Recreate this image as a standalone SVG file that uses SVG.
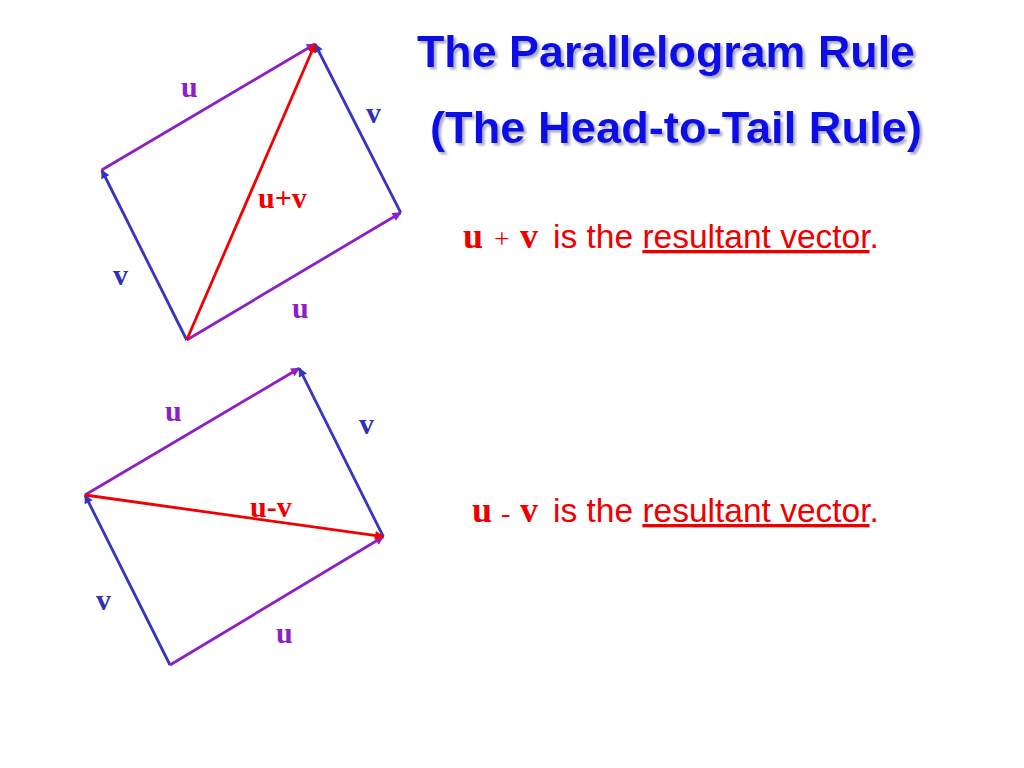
<svg xmlns="http://www.w3.org/2000/svg" width="1024" height="768" viewBox="0 0 1024 768">
<style>
.title{font-family:"Liberation Sans",Arial,sans-serif;font-weight:bold;font-size:45px;fill:#0a0ae6;filter:url(#shadow)}
.lbl{font-family:"Liberation Serif","Times New Roman",serif;font-weight:bold;font-size:30px}
.lu{fill:#8e1fc4}
.lv{fill:#3030b0}
.lr{fill:#f00000}
.sent{fill:#ee0000;font-family:"Liberation Sans",Arial,sans-serif;font-size:33.5px}
.sym{font-family:"Liberation Serif","Times New Roman",serif;font-weight:bold;font-size:36px}
.op{font-family:"Liberation Serif","Times New Roman",serif;font-size:28px}
.vu{stroke:#8e1fc4;stroke-width:2.8;fill:none}
.vv{stroke:#3535c0;stroke-width:2.8;fill:none}
.vr{stroke:#f00000;stroke-width:2.8;fill:none}
</style>
<defs>
<filter id="shadow" x="-5%" y="-20%" width="110%" height="150%">
<feDropShadow dx="2.5" dy="2.5" stdDeviation="1" flood-color="#8888a0" flood-opacity="0.7"/>
</filter>
<marker id="hu" viewBox="0 0 10 10" refX="9" refY="5" markerWidth="12" markerHeight="9" markerUnits="userSpaceOnUse" orient="auto"><path d="M0,0 L10,5 L0,10 z" fill="#8e1fc4"/></marker>
<marker id="hv" viewBox="0 0 10 10" refX="9" refY="5" markerWidth="12" markerHeight="9" markerUnits="userSpaceOnUse" orient="auto"><path d="M0,0 L10,5 L0,10 z" fill="#3535c0"/></marker>
<marker id="hr" viewBox="0 0 10 10" refX="9" refY="5" markerWidth="12" markerHeight="9" markerUnits="userSpaceOnUse" orient="auto"><path d="M0,0 L10,5 L0,10 z" fill="#f00000"/></marker>
</defs>
<rect width="1024" height="768" fill="#ffffff"/>
<g id="title">
<text class="title" x="417" y="67" textLength="498" lengthAdjust="spacingAndGlyphs">The Parallelogram Rule</text>
<text class="title" x="430" y="143" textLength="492" lengthAdjust="spacingAndGlyphs">(The Head-to-Tail Rule)</text>
</g>
<g id="sentence-sum">
<text class="sent" y="248"><tspan class="sym" x="463">u</tspan><tspan class="op" x="494">+</tspan><tspan class="sym" x="520">v</tspan><tspan x="553">is the </tspan><tspan text-decoration="underline">resultant vector</tspan><tspan>.</tspan></text>
</g>
<g id="sentence-diff">
<text class="sent" y="522"><tspan class="sym" x="472">u</tspan><tspan class="op" x="501">-</tspan><tspan class="sym" x="520">v</tspan><tspan x="553">is the </tspan><tspan text-decoration="underline">resultant vector</tspan><tspan>.</tspan></text>
</g>
<g id="connectors">
<g id="sum-vectors">
<line class="vv" x1="186.7" y1="340" x2="101.7" y2="170" marker-end="url(#hv)"/>
<line class="vu" x1="101.7" y1="170" x2="315" y2="44" marker-end="url(#hu)"/>
<line class="vu" x1="186.7" y1="340" x2="400.7" y2="212.7" marker-end="url(#hu)"/>
<line class="vv" x1="400.7" y1="212.7" x2="315" y2="44" marker-end="url(#hv)"/>
<line class="vr" x1="186.7" y1="340" x2="315" y2="44" marker-end="url(#hr)"/>
</g>
<g id="diff-vectors">
<line class="vv" x1="170" y1="665" x2="85" y2="495" marker-end="url(#hv)"/>
<line class="vu" x1="85" y1="495" x2="299.3" y2="368.3" marker-end="url(#hu)"/>
<line class="vu" x1="170" y1="665" x2="383.3" y2="536.7" marker-end="url(#hu)"/>
<line class="vv" x1="383.3" y1="536.7" x2="299.3" y2="368.3" marker-end="url(#hv)"/>
<line class="vr" x1="85" y1="495" x2="383.3" y2="536.7" marker-end="url(#hr)"/>
</g>
</g>
<g id="sum-labels">
<text class="lbl lu" x="181" y="97">u</text>
<text class="lbl lv" x="366" y="123">v</text>
<text class="lbl lr" x="258" y="208">u+v</text>
<text class="lbl lv" x="113" y="285">v</text>
<text class="lbl lu" x="292" y="318">u</text>
</g>
<g id="diff-labels">
<text class="lbl lu" x="165" y="421">u</text>
<text class="lbl lv" x="359" y="434">v</text>
<text class="lbl lr" x="250" y="517">u-v</text>
<text class="lbl lv" x="96" y="610">v</text>
<text class="lbl lu" x="276" y="643">u</text>
</g>
</svg>
